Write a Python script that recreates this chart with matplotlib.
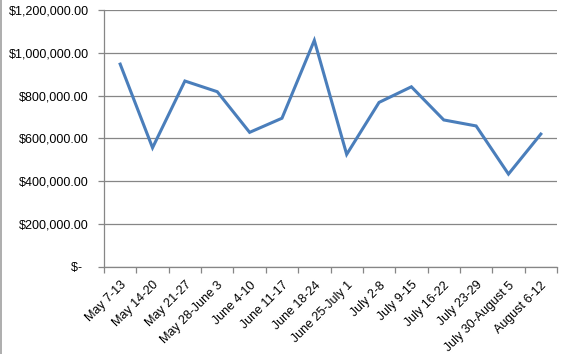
import numpy as np
import matplotlib.pyplot as plt
from matplotlib.lines import Line2D

weeks = ['May 7-13', 'May 14-20', 'May 21-27', 'May 28-June 3', 'June 4-10',
         'June 11-17', 'June 18-24', 'June 25-July 1', 'July 2-8', 'July 9-15',
         'July 16-22', 'July 23-29', 'July 30-August 5', 'August 6-12']
sales = [947000, 556000, 868000, 818000, 628000, 694000, 1058000,
         525000, 768000, 841000, 686000, 658000, 433000, 620000]
y_ticks = [0, 200000, 400000, 600000, 800000, 1000000, 1200000]
y_labels = ['$-  ', '$200,000.00', '$400,000.00', '$600,000.00',
            '$800,000.00', '$1,000,000.00', '$1,200,000.00']

plt.rcParams['font.family'] = ['Liberation Sans', 'DejaVu Sans']

fig = plt.figure(figsize=(5.64, 3.54), dpi=100)
ax = fig.add_axes([0.1844, 0.2466, 0.8032, 0.7252])

grid_c = '#868686'
x = np.arange(len(weeks)) + 0.5
ax.plot(x, sales, color='#4A7EBB', linewidth=2.2, solid_joinstyle='miter', zorder=3)

ax.set_xlim(0, len(weeks))
ax.set_ylim(0, 1200000)

ax.set_yticks(y_ticks)
ax.set_yticklabels(y_labels, fontsize=9)
ax.yaxis.grid(True, color=grid_c, linewidth=0.9)
ax.set_axisbelow(True)

ax.set_xticks(np.arange(len(weeks) + 1))
ax.set_xticklabels([])
ax.set_xticks(x, minor=True)
ax.set_xticklabels(weeks, minor=True, fontsize=9, rotation=45,
                   ha='right', rotation_mode='anchor')
ax.tick_params(axis='x', which='minor', length=0, pad=9)
ax.tick_params(axis='both', which='major', length=4, width=0.9, color=grid_c)
ax.tick_params(axis='y', pad=7)

for s in ['top', 'right']:
    ax.spines[s].set_visible(False)
for s in ['left', 'bottom']:
    ax.spines[s].set_color(grid_c)
    ax.spines[s].set_linewidth(0.9)

fig.add_artist(Line2D([0.001, 0.001], [0, 1], color='#a0a0a0', linewidth=1.2,
                      transform=fig.transFigure))

fig.savefig('out.png', dpi=100)
